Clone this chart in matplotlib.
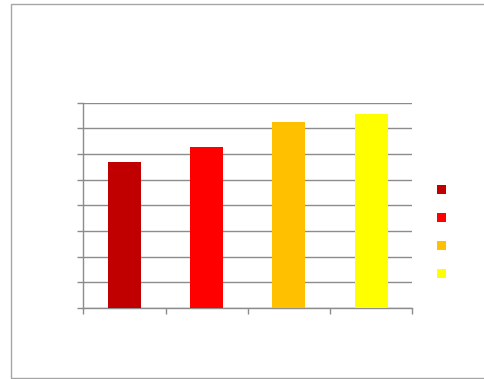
import matplotlib.pyplot as plt
from matplotlib.patches import Patch, Rectangle

# four series, one bar each
series = ['Series 1', 'Series 2', 'Series 3', 'Series 4']
values = [5.68, 6.28, 7.26, 7.57]
colors = ['#C00000', '#FF0000', '#FFC000', '#FFFF00']

fig = plt.figure(figsize=(4.84, 3.79), dpi=100)
ax = fig.add_axes([0.1721, 0.1873, 0.6798, 0.5417])

# outer chart frame
fig.patches.append(Rectangle((11 / 484, 1 - 378 / 379), 1.0, 374 / 379,
                             transform=fig.transFigure, fill=False,
                             edgecolor='#a6a6a6', linewidth=1.0))

grid_color = '#8c8c8c'
xs = [i + 0.5 for i in range(len(values))]
ax.bar(xs, values, width=0.4, color=colors, zorder=3)

ax.set_xlim(0, 4)
ax.set_ylim(0, 8)
ax.set_yticks(range(0, 9))
ax.set_xticks(range(0, 5))
ax.set_yticklabels([])
ax.set_xticklabels([])
ax.yaxis.grid(True, color=grid_color, linewidth=1.0, zorder=0)
ax.tick_params(axis='both', length=4, width=1.0, color=grid_color)

for side in ['top', 'right']:
    ax.spines[side].set_visible(False)
for side in ['left', 'bottom']:
    ax.spines[side].set_color(grid_color)
    ax.spines[side].set_linewidth(1.0)

handles = [Patch(facecolor=c, edgecolor='none') for c in colors]
fig.legend(handles, [''] * 4, loc='center',
           bbox_to_anchor=(441.5 / 484, 1 - 232.5 / 379),
           frameon=False, fontsize=10, handlelength=0.65, handleheight=0.65,
           labelspacing=1.01, handletextpad=0.0)

plt.savefig('out.png', dpi=100)
